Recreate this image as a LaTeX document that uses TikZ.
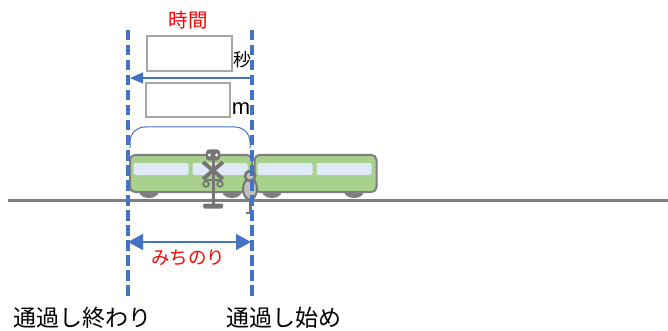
\documentclass[tikz,border=0pt]{standalone}
\usepackage{fontspec}
\setmainfont{Liberation Sans}
\newfontfamily\jp{Noto Sans CJK JP}
\usetikzlibrary{arrows.meta,shapes.geometric}
\definecolor{guideblue}{HTML}{4472C4}
\definecolor{labelred}{HTML}{FF0000}
\definecolor{railgray}{HTML}{7F7F7F}
\definecolor{boxgray}{HTML}{A6A6A6}
\definecolor{trainfill}{HTML}{A9D18E}
\definecolor{windowfill}{HTML}{DEEBF7}
\definecolor{figgray}{HTML}{767676}
\definecolor{bodygray}{HTML}{BFBFBF}
\tikzset{
  rail/.style={draw=railgray, line width=3pt},
  guide/.style={draw=guideblue, line width=3.6pt, dash pattern=on 10.5pt off 4.5pt},
  valuebox/.style={draw=boxgray, line width=2.5pt, fill=white, rectangle, inner sep=0pt},
  carbody/.style={draw=railgray, line width=2pt, fill=trainfill, rounded corners=5pt, inner sep=0pt, minimum width=122pt, minimum height=37pt},
  pane/.style={fill=windowfill, rounded corners=2pt, inner sep=0pt, minimum width=55pt, minimum height=12pt},
  wheel/.style={fill=railgray, ellipse, inner sep=0pt, minimum width=19pt, minimum height=12pt},
  redlabel/.style={text=labelred, font=\jp\fontsize{19.5}{22}\selectfont, inner sep=0pt},
  blacklabel/.style={text=black, font=\jp\fontsize{23}{26}\selectfont, inner sep=0pt},
  bluearrow/.style={draw=guideblue, line width=1.3pt},
  sign/.style={draw=figgray, line width=3pt},
}
\begin{document}
\begin{tikzpicture}[x=1pt,y=-1pt]
\useasboundingbox[fill=white] (0,0) rectangle (668,331);

% track
\coordinate (railL) at (8,200);
\coordinate (railR) at (668,200);
\draw[rail] (railL) -- (railR);

% wheels
\node[wheel] (w1) at (149,192) {};
\node[wheel] (w2) at (232,192) {};
\node[wheel] (w3) at (272,192) {};
\node[wheel] (w4) at (354,192) {};

% train cars with windows
\node[carbody] (car1) at (191,173.5) {};
\node[carbody] (car2) at (315.5,173.5) {};
\node[pane] (p1) at (161,169) {};
\node[pane] (p2) at (220,169) {};
\node[pane] (p3) at (285,169) {};
\node[pane] (p4) at (344,169) {};

% level crossing sign
\coordinate (poleTop) at (213,158);
\coordinate (poleBot) at (213,204);
\draw[sign] (poleTop) -- (poleBot);
\node[fill=figgray, rounded corners=3pt, minimum width=14pt, minimum height=11pt, inner sep=0pt] (lamp) at (213,155) {};
\fill[white] (209.5,155) circle (1.7pt) (216.5,155) circle (1.7pt);
\draw[sign, line width=4pt] (203,162) -- (223,179);
\draw[sign, line width=4pt] (223,162) -- (203,179);
\draw[sign, line width=2pt] (205,180) -- (221,180);
\draw[sign, line width=1.8pt] (206,184) circle (2.8pt) (220,184) circle (2.8pt);
\node[fill=figgray, rounded corners=1.5pt, minimum width=20pt, minimum height=5pt, inner sep=0pt] (base) at (213,206) {};

% person
\coordinate (legTop) at (250,196);
\coordinate (legBot) at (250,213);
\draw[sign, line width=3pt] (legTop) -- (legBot);
\draw[sign, line width=2.5pt] (246,213) -- (254,213);
\node[draw=figgray, line width=2pt, fill=bodygray, ellipse, minimum width=14pt, minimum height=21pt, inner sep=0pt] (body) at (250,189) {};
\node[draw=figgray, line width=2.5pt, fill=bodygray, circle, minimum size=10pt, inner sep=0pt] (head) at (250,176) {};

% bracket over the passing car
\draw[guideblue, line width=1pt, rounded corners=15pt] (130,148) -- (130,127) -- (250,127) -- (250,148);

% timing guides
\coordinate (leftTop) at (128,30);
\coordinate (leftBot) at (128,296);
\coordinate (rightTop) at (252,30);
\coordinate (rightBot) at (252,296);
\draw[guide] (leftTop) -- (leftBot);
\draw[guide] (rightTop) -- (rightBot);

% value boxes and units
\node[valuebox, minimum width=85pt, minimum height=35pt] (timebox) at (189.5,53.5) {};
\node[valuebox, minimum width=84pt, minimum height=34pt] (distbox) at (188,100) {};
\node[font=\jp\fontsize{18}{20}\selectfont, inner sep=0pt] (sec) at (242,60) {秒};
\node[font=\fontsize{22}{24}\selectfont, inner sep=0pt] (metre) at (241,109) {m};
\node[redlabel] (jikan) at (188,20) {時間};

% time arrow
\coordinate (tStart) at (252,78);
\coordinate (tEnd) at (130,78);
\draw[bluearrow, -{Triangle[length=13pt,width=11pt]}] (tStart) -- (tEnd);

% distance arrow
\coordinate (dL) at (128,242);
\coordinate (dR) at (251,242);
\draw[bluearrow, {Triangle[length=15pt,width=16pt]}-{Triangle[length=15pt,width=16pt]}] (dL) -- (dR);
\node[redlabel, font=\jp\fontsize{18.5}{22}\selectfont] (michinori) at (188,258) {みちのり};

% bottom labels
\node[blacklabel] (endlabel) at (82,318) {通過し終わり};
\node[blacklabel] (startlabel) at (283.5,318) {通過し始め};
\end{tikzpicture}
\end{document}
